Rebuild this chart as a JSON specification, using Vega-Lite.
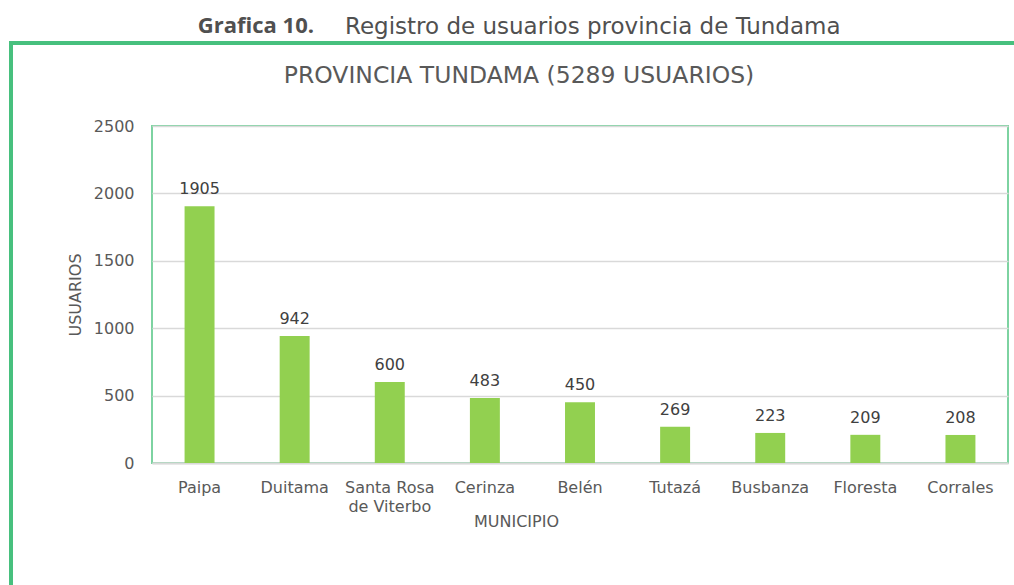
{
  "$schema": "https://vega.github.io/schema/vega-lite/v6.json",
  "padding": {"left": 9, "top": 15, "right": 0, "bottom": 0},
  "background": "white",
  "bounds": "flush",
  "spacing": 0,
  "config": {"view": {"stroke": null}},
  "vconcat": [
    {
      "bounds": "flush",
      "spacing": 0,
      "hconcat": [
        {
          "width": 305,
          "height": 4,
          "title": {"text": "Grafica 10.", "anchor": "end", "font": "Open Sans", "fontSize": 22, "fontWeight": "bold", "color": "#505050", "baseline": "alphabetic", "offset": -14},
          "view": {"fill": "#47c07e", "stroke": null},
          "data": {"values": []},
          "mark": "rect",
          "encoding": {}
        },
        {
          "width": 700,
          "height": 4,
          "title": {"text": "Registro de usuarios provincia de Tundama", "anchor": "start", "dx": 31, "font": "DejaVu Sans", "fontSize": 23, "fontWeight": "normal", "color": "#505050", "baseline": "alphabetic", "offset": -16},
          "view": {"fill": "#47c07e", "stroke": null},
          "data": {"values": []},
          "mark": "rect",
          "encoding": {}
        }
      ]
    },
    {
      "bounds": "flush",
      "spacing": 139,
      "hconcat": [
        {
          "width": 4,
          "height": 560,
          "view": {"fill": "#47c07e", "stroke": null},
          "data": {"values": []},
          "mark": "rect",
          "encoding": {}
        },
        {
          "bounds": "flush",
          "spacing": 84,
          "vconcat": [
            {
              "width": 856,
              "height": 1,
              "view": {"stroke": null},
              "data": {"values": []},
              "mark": "rect",
              "encoding": {}
            },
            {
              "width": 856,
              "height": 337,
              "title": {"text": "PROVINCIA TUNDAMA (5289 USUARIOS)", "anchor": "middle", "dx": -61, "font": "DejaVu Sans", "fontSize": 23.5, "fontWeight": "normal", "color": "#595959", "baseline": "alphabetic", "offset": 12},
              "view": {"stroke": "#7dd3a1", "strokeWidth": 2},
              "data": {
                "values": [
                  {"municipio": "Paipa", "usuarios": 1905},
                  {"municipio": "Duitama", "usuarios": 942},
                  {"municipio": "Santa Rosa de Viterbo", "usuarios": 600},
                  {"municipio": "Cerinza", "usuarios": 483},
                  {"municipio": "Belén", "usuarios": 450},
                  {"municipio": "Tutazá", "usuarios": 269},
                  {"municipio": "Busbanza", "usuarios": 223},
                  {"municipio": "Floresta", "usuarios": 209},
                  {"municipio": "Corrales", "usuarios": 208}
                ]
              },
              "encoding": {
                "x": {
                  "field": "municipio",
                  "type": "nominal",
                  "sort": null,
                  "scale": {"paddingInner": 0.685, "paddingOuter": 0.3425},
                  "axis": {
                    "title": "MUNICIPIO",
                    "labelAngle": 0,
                    "ticks": false,
                    "domainColor": "#d9d9d9",
                    "domainWidth": 2,
                    "labelFont": "DejaVu Sans",
                    "labelFontSize": 16,
                    "labelColor": "#595959",
                    "labelPadding": 16,
                    "labelLineHeight": 19,
                    "labelExpr": "datum.value == 'Santa Rosa de Viterbo' ? ['Santa Rosa', 'de Viterbo'] : datum.value",
                    "titleFont": "DejaVu Sans",
                    "titleFontSize": 16,
                    "titleFontWeight": "normal",
                    "titleColor": "#595959",
                    "titleX": 364,
                    "titleY": 63,
                    "titleAlign": "center",
                    "titleBaseline": "alphabetic"
                  }
                },
                "y": {
                  "field": "usuarios",
                  "type": "quantitative",
                  "scale": {"domain": [0, 2500], "nice": false},
                  "axis": {
                    "title": "USUARIOS",
                    "values": [0, 500, 1000, 1500, 2000, 2500],
                    "format": "d",
                    "ticks": false,
                    "domain": false,
                    "gridColor": "#d9d9d9",
                    "gridWidth": 1.5,
                    "labelFont": "DejaVu Sans",
                    "labelFontSize": 16,
                    "labelColor": "#595959",
                    "labelPadding": 18,
                    "titleFont": "DejaVu Sans",
                    "titleFontSize": 16,
                    "titleFontWeight": "normal",
                    "titleColor": "#595959",
                    "titlePadding": 10
                  }
                }
              },
              "layer": [
                {"mark": {"type": "bar", "color": "#92d050"}},
                {
                  "mark": {"type": "text", "dy": -12, "baseline": "alphabetic", "font": "DejaVu Sans", "fontSize": 16, "color": "#404040"},
                  "encoding": {"text": {"field": "usuarios", "type": "quantitative"}}
                }
              ]
            }
          ]
        }
      ]
    }
  ]
}
